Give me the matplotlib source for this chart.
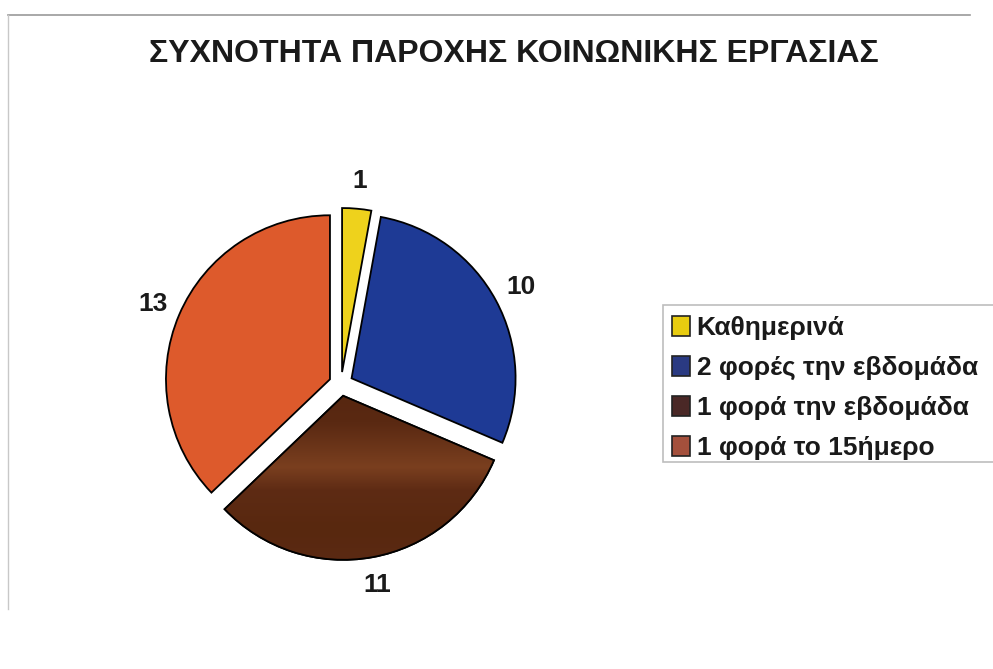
import matplotlib
matplotlib.use("Agg")
import matplotlib.pyplot as plt
import numpy as np
from matplotlib.patches import Rectangle, Wedge
from matplotlib.colors import LinearSegmentedColormap

# data
categories = ["Καθημερινά", "2 φορές την εβδομάδα", "1 φορά την εβδομάδα", "1 φορά το 15ήμερο"]
counts = [1, 10, 11, 13]
colors = ["#EED21C", "#1E3A95", "#5B2A15", "#DD5A2C"]
legend_colors = ["#E8CC10", "#2A3A82", "#4A2826", "#A4503C"]
title = "ΣΥΧΝΟΤΗΤΑ ΠΑΡΟΧΗΣ ΚΟΙΝΩΝΙΚΗΣ ΕΡΓΑΣΙΑΣ"

W, H = 993, 669
fig = plt.figure(figsize=(W / 100, H / 100), dpi=100)
fig.patch.set_facecolor("white")

# pixel-space axes so the pie can be placed like in the reference
ax = fig.add_axes([0, 0, 1, 1])
ax.set_aspect("equal")

# faint chart-area frame (top and left edges)
ax.plot([8, 970], [H - 15, H - 15], color="#9a9a9a", lw=1.2)
ax.plot([8, 8], [H - 15, 60], color="#c8c8c8", lw=1.0)

radius = 164
gap = 12  # explode offset, in pixels (pie explode is in data units)
cx, cy = 341, H - 384
wedges, texts = ax.pie(
    counts,
    labels=[str(c) for c in counts],
    colors=colors,
    startangle=90,
    counterclock=False,
    explode=[gap] * len(counts),
    radius=radius,
    center=(cx, cy),
    labeldistance=1.17,
    wedgeprops=dict(edgecolor="black", linewidth=1.3),
    textprops=dict(fontsize=19, fontweight="bold", family="Liberation Sans", color="#1a1a1a"),
    frame=True,
)
for t in texts:
    t.set_horizontalalignment("center")

# shiny band on the brown slice, as in the scanned original
shine = LinearSegmentedColormap.from_list(
    "shine", [(0.0, "#55250F"), (0.25, "#5A2912"), (0.48, "#7A3F1F"),
              (0.6, "#5E2B14"), (0.8, "#58280F"), (1.0, "#5C2A14")])
grad = np.linspace(0, 1, 200).reshape(-1, 1)
brown = wedges[2]
img = ax.imshow(grad, cmap=shine, aspect="auto", origin="upper",
                extent=(cx - radius - 20, cx + radius + 20, cy - radius - 20, cy + 10),
                zorder=brown.get_zorder() + 0.1)
img.set_clip_path(brown)
ax.add_patch(Wedge(brown.center, brown.r, brown.theta1, brown.theta2,
                   facecolor="none", edgecolor="black", linewidth=1.3,
                   zorder=img.get_zorder() + 0.1))

ax.set_xlim(0, W)
ax.set_ylim(0, H)
ax.axis("off")

fig.text(514 / W, 1 - 54 / H, title, ha="center", va="center", fontsize=23,
         fontweight="bold", family="Liberation Sans", color="#1a1a1a")

# legend box runs off the right edge in the reference
ax.add_patch(Rectangle((663, H - 462), 400, 157, facecolor="white",
                       edgecolor="#bdbdbd", lw=1.2, zorder=5))
handles = [Rectangle((0, 0), 1, 1, facecolor=c, edgecolor="#222222", lw=1.2) for c in legend_colors]
leg = fig.legend(
    handles, categories,
    loc="upper left",
    bbox_to_anchor=(661 / W, 1 - 305 / H),
    frameon=False,
    handlelength=0.7, handleheight=0.8, handletextpad=0.25,
    labelspacing=0.6, borderpad=0.4, borderaxespad=0,
    prop=dict(family="Liberation Sans", weight="bold", size=19),
)
leg.set_zorder(6)
for t in leg.get_texts():
    t.set_color("#1a1a1a")

fig.savefig("out.png", dpi=100, facecolor="white")
